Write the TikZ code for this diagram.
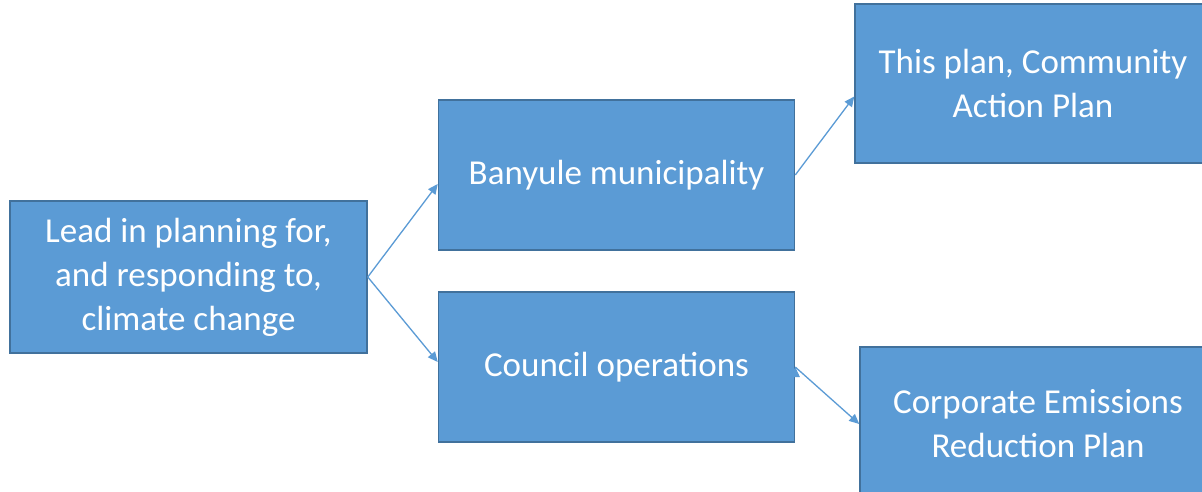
\documentclass[tikz,border=0pt]{standalone}
\usepackage{fontspec}
\setmainfont{Carlito}
\usetikzlibrary{positioning}
\usetikzlibrary{arrows.meta}
\definecolor{boxfill}{HTML}{5B9BD5}
\definecolor{boxline}{HTML}{41719C}

\begin{document}
\begin{tikzpicture}[x=1pt, y=1pt,
			node distance = 70pt,
			box/.style={draw=boxline, fill=boxfill, line width=1.5pt,
				text=white, align=center, minimum width=356pt,
				font=\fontsize{35}{44}\selectfont},
			link/.style={draw=boxfill, line width=1.3pt,
				-{Triangle[length=10pt, width=9pt, fill=boxfill]}}]
			\clip (0,0) rectangle (1202,-492);
			\fill [white] (0,0) rectangle (1202,-492);
			\node [box, minimum width=357pt, minimum height=152pt] (lead) at (188.5,-277) {Lead in planning for,\\and responding to,\\climate change};
			\node [box, minimum height=150pt, right=70pt of lead, yshift=102pt] (banyule) {Banyule municipality};
			\node [box, minimum height=150pt, right=70pt of lead, yshift=-90pt] (council) {Council operations};
			\node [box, minimum height=159pt, right=59pt of banyule, yshift=91.5pt] (thisplan) {This plan, Community\\Action Plan};
			\node [box, minimum height=154pt, right=64pt of council, yshift=-57pt] (corporate) {Corporate Emissions\\Reduction Plan};
			\path [link]
				(lead.east) edge [] ([yshift=-9pt]banyule.west)
				(lead.east) edge [] ([yshift=5pt]council.west)
				(banyule.east) edge [] ([yshift=-13pt]thisplan.west)
				(council.east) edge [] (corporate.west);
		\end{tikzpicture}
\end{document}
